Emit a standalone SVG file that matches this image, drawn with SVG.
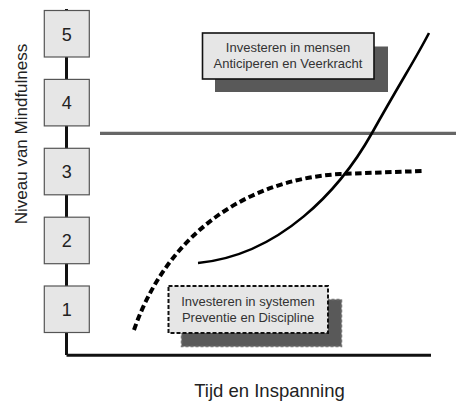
<svg xmlns="http://www.w3.org/2000/svg" width="456" height="402" viewBox="0 0 456 402">
<style>
.lvl rect{fill:#e6e6e6;stroke:#555;stroke-width:1.2}
.lvl text{font-family:"Liberation Sans",Arial,sans-serif;font-size:18px;fill:#222;text-anchor:middle}
.lbl{font-family:"Liberation Sans",Arial,sans-serif;font-size:13px;fill:#333;text-anchor:middle}
.axlbl{font-family:"Liberation Sans",Arial,sans-serif;font-size:18.5px;fill:#222;text-anchor:middle}
.shadow{fill:#595959}
</style>
<rect width="456" height="402" fill="#fff"/>
<g id="connectors" fill="none">
<line x1="66.5" y1="9" x2="66.5" y2="355" stroke="#111" stroke-width="3"/>
<polyline points="66.5,355.3 431,355.3" stroke="#111" stroke-width="3"/>
<line x1="100" y1="133.3" x2="456" y2="133.3" stroke="#666" stroke-width="3.2"/>
<path d="M198,263 C280,255 340,190 372,133 S415,60 429,33" stroke="#000" stroke-width="2.6"/>
<path d="M134,330 C165,240 240,180 340,174 L422,171" stroke="#000" stroke-width="4" stroke-dasharray="6.5,3.5"/>
</g>
<g id="level5" class="lvl"><rect x="44.3" y="10.5" width="45" height="46.5"/><text x="66.8" y="40.5">5</text></g>
<g id="level4" class="lvl"><rect x="44.3" y="79.4" width="45" height="46.5"/><text x="66.8" y="109.4">4</text></g>
<g id="level3" class="lvl"><rect x="44.3" y="148.3" width="45" height="46.5"/><text x="66.8" y="178.3">3</text></g>
<g id="level2" class="lvl"><rect x="44.3" y="217.2" width="45" height="46.5"/><text x="66.8" y="247.2">2</text></g>
<g id="level1" class="lvl"><rect x="44.3" y="286" width="45" height="46.5"/><text x="66.8" y="316">1</text></g>
<g id="mensen">
<rect class="shadow" x="215" y="46.5" width="173" height="45.5"/>
<rect x="202.5" y="33" width="171.5" height="46" fill="#e6e6e6" stroke="#111" stroke-width="1.6"/>
<text class="lbl" x="288" y="52">Investeren in mensen</text>
<text class="lbl" x="288" y="68">Anticiperen en Veerkracht</text>
</g>
<g id="systemen">
<rect class="shadow" x="181.5" y="299.5" width="160" height="47" stroke="#777" stroke-width="1.5" stroke-dasharray="3,2"/>
<rect x="168.5" y="286" width="159.5" height="47" fill="#e6e6e6" stroke="#111" stroke-width="2" stroke-dasharray="4,2"/>
<text class="lbl" x="248" y="306">Investeren in systemen</text>
<text class="lbl" x="248" y="321.5">Preventie en Discipline</text>
</g>
<text class="axlbl" x="269.5" y="397">Tijd en Inspanning</text>
<text class="axlbl" style="font-size:17px" x="0" y="0" transform="translate(27,134) rotate(-90)">Niveau van Mindfulness</text>
</svg>
